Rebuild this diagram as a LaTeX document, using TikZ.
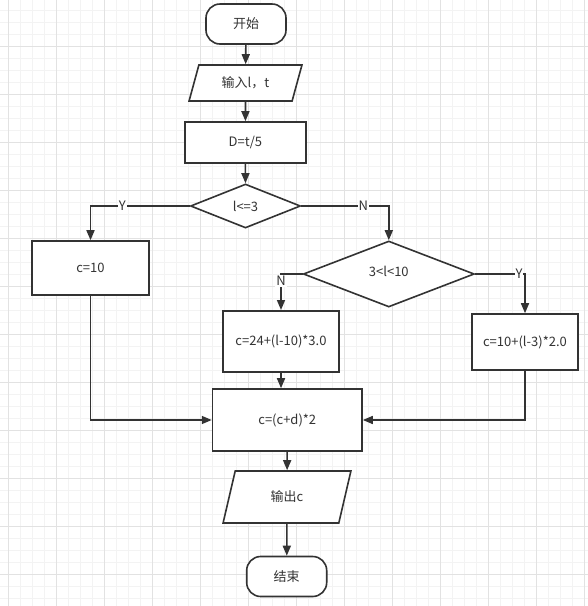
\documentclass[tikz,border=0pt]{standalone}
\usepackage{fontspec}
\setmainfont{Noto Sans CJK SC}
\usetikzlibrary{shapes.geometric,arrows.meta}
\definecolor{ink}{HTML}{333333}
\definecolor{gridmaj}{HTML}{E2E2E2}
\definecolor{gridmin}{HTML}{F3F3F3}
\begin{document}
\begin{tikzpicture}[x=1pt,y=-1pt,
  font=\fontsize{13}{15}\selectfont,
  every node/.style={text=ink},
  line/.style={draw=ink,line width=1.6pt},
  arr/.style={line,-{Triangle[length=10pt,width=8pt]}},
  box/.style={draw=ink,line width=1.6pt,fill=white,rectangle,inner sep=2pt},
  term/.style={box,rounded corners=14pt,minimum width=80pt,minimum height=40pt},
  ioa/.style={draw=ink,line width=1.6pt,fill=white,trapezium,trapezium stretches=true,
    trapezium left angle=71.6,trapezium right angle=108.4,inner sep=2pt},
  iob/.style={draw=ink,line width=1.6pt,fill=white,trapezium,trapezium stretches=true,
    trapezium left angle=75,trapezium right angle=105,inner sep=2pt},
  dec/.style={draw=ink,line width=1.6pt,fill=white,diamond,inner sep=0pt},
  lbl/.style={fill=white,inner sep=1pt}
]
\useasboundingbox (0,0) rectangle (588,606);
\fill[white] (0,0) rectangle (588,606);
\foreach \x in {8,20,...,584} \draw[gridmin,line width=0.8pt] (\x,0) -- (\x,606);
\foreach \y in {10,22,...,598} \draw[gridmin,line width=0.8pt] (0,\y) -- (588,\y);
\foreach \x in {8,56,...,584} \draw[gridmaj,line width=0.9pt] (\x,0) -- (\x,606);
\foreach \y in {46,94,...,574} \draw[gridmaj,line width=0.9pt] (0,\y) -- (588,\y);

\node[term] (start) at (246,24) {开始};
\node[ioa,minimum width=113pt,minimum height=36pt] (in) at (245.5,83) {输入l，t};
\node[box,minimum width=121pt,minimum height=41pt] (D) at (245.4,142.5) {D=t/5};
\node[dec,minimum width=110pt,minimum height=44pt] (d1) at (245.5,206) {l<=3};
\node[box,minimum width=117pt,minimum height=54pt] (c10) at (90.5,268) {c=10};
\node[dec,minimum width=171pt,minimum height=66pt] (d2) at (388.8,274) {\raisebox{6pt}{3<l<10}};
\node[box,minimum width=116pt,minimum height=61pt] (c24) at (281,341.3) {c=24+(l-10)*3.0};
\node[box,minimum width=106pt,minimum height=56pt] (c10p) at (525,342) {c=10+(l-3)*2.0};
\node[box,minimum width=149.5pt,minimum height=62pt] (calc) at (287.3,420) {c=(c+d)*2};
\node[iob,minimum width=128pt,minimum height=52pt] (out) at (287,497) {输出c};
\node[term] (end) at (286.7,576.5) {结束};

\draw[arr] (start) -- (in);
\draw[arr] (in) -- (D);
\draw[arr] (D) -- (d1);
\draw[arr] (d1.west) -| node[lbl,pos=0.34]{Y} (c10.north);
\draw[arr] (d1.east) -| node[lbl,pos=0.355]{N} (d2.north);
\draw[arr] (d2.west) -| node[lbl,pos=0.6]{N} (c24.north);
\draw[arr] (d2.east) -| node[lbl,pos=0.44]{Y} (c10p.north);
\draw[arr] (c24.south) -- (c24.south |- calc.north);
\draw[arr] (c10.south) |- (calc.west);
\draw[arr] (c10p.south) |- (calc.east);
\draw[arr] (calc) -- (out);
\draw[arr] (out) -- (end);
\end{tikzpicture}
\end{document}
